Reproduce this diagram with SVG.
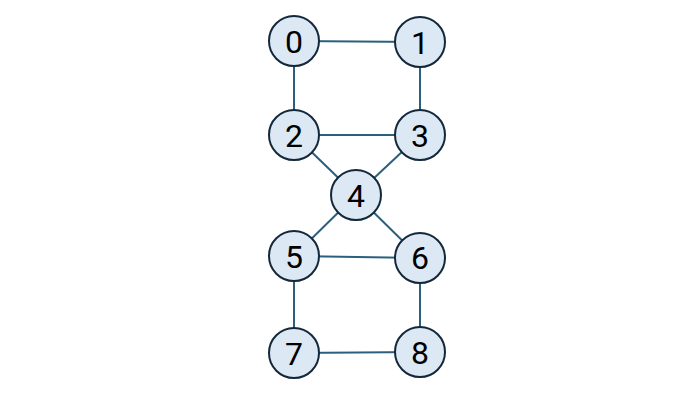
<svg xmlns="http://www.w3.org/2000/svg" width="699" height="394" viewBox="0 0 699 394">
<style>
.n circle{fill:#dde8f5;stroke:#13283a;stroke-width:2}
.n text{font-family:Roboto,"Liberation Sans",sans-serif;font-size:32px;fill:#000;text-anchor:middle;dominant-baseline:central}
.e line{stroke:#2a5f7e;stroke-width:2}
</style>
<rect width="699" height="394" fill="#fff"/>
<g id="edges" class="e">
<line x1="294" y1="41" x2="420" y2="42"/>
<line x1="294" y1="41" x2="294" y2="135"/>
<line x1="420" y1="42" x2="420" y2="135"/>
<line x1="294" y1="135" x2="420" y2="135"/>
<line x1="294" y1="135" x2="356" y2="195"/>
<line x1="420" y1="135" x2="356" y2="195"/>
<line x1="356" y1="195" x2="294" y2="256"/>
<line x1="356" y1="195" x2="420" y2="258"/>
<line x1="294" y1="256" x2="420" y2="258"/>
<line x1="294" y1="256" x2="294" y2="352"/>
<line x1="420" y1="258" x2="420" y2="352"/>
<line x1="294" y1="353" x2="420" y2="352"/>
</g>
<g id="node0" class="n"><circle cx="294" cy="41" r="25"/><text x="294" y="42">0</text></g>
<g id="node1" class="n"><circle cx="420" cy="42" r="25"/><text x="420" y="43">1</text></g>
<g id="node2" class="n"><circle cx="294" cy="135" r="25"/><text x="294" y="136">2</text></g>
<g id="node3" class="n"><circle cx="420" cy="135" r="25"/><text x="420" y="136">3</text></g>
<g id="node4" class="n"><circle cx="356" cy="195" r="25"/><text x="356" y="196">4</text></g>
<g id="node5" class="n"><circle cx="294" cy="256" r="25"/><text x="294" y="257">5</text></g>
<g id="node6" class="n"><circle cx="420" cy="258" r="25"/><text x="420" y="258">6</text></g>
<g id="node7" class="n"><circle cx="294" cy="353" r="25"/><text x="294" y="354">7</text></g>
<g id="node8" class="n"><circle cx="420" cy="352" r="25"/><text x="420" y="353">8</text></g>
</svg>
